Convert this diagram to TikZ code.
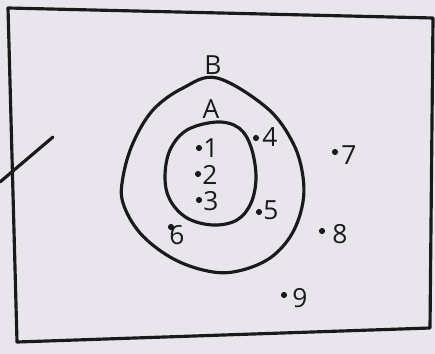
\documentclass[tikz,border=0pt]{standalone}
\usepackage{fontspec}
\setmainfont{Open Sans}
\definecolor{paper}{HTML}{E8E5EC}
\definecolor{ink}{HTML}{1A1A1A}
\begin{document}
\begin{tikzpicture}[x=0.02cm,y=-0.02cm,
  pen/.style={draw=ink,line width=1.8pt,line cap=round,line join=round},
  lbl/.style={text=ink,font=\fontsize{15}{17}\selectfont,inner sep=0pt},
  pt/.style={circle,fill=ink,inner sep=0pt,minimum size=3.5pt}]
\fill[paper] (0,0) rectangle (435,354);
\useasboundingbox (0,0) rectangle (435,354);
% frame
\coordinate (c1) at (8,8);
\coordinate (c2) at (433,18);
\coordinate (c3) at (430,328);
\coordinate (c4) at (17,342);
\draw[pen] (c1) -- (c2) -- (c3) -- (c4) -- cycle;
% diagonal stroke
\coordinate (d1) at (53,137);
\coordinate (d2) at (0,182);
\draw[pen] (d1) -- (d2);
% set B
\draw[pen] plot[smooth cycle,tension=0.6] coordinates {(217,78) (267,108) (293,143) (303,177) (302,207) (290,237) (267,260) (233,272) (203,270) (170,257) (140,233) (123,203) (123,177) (133,143) (153,110) (183,88)};
% set A
\draw[pen] plot[smooth cycle,tension=0.6] coordinates {(217,122) (239,128) (251,147) (256,177) (251,203) (237,220) (213,225) (187,218) (170,200) (165,177) (170,150) (187,130)};
% labels
\node[lbl] (B) at (213,65) {B};
\node[lbl] (A) at (211,109) {A};
% elements
\node[pt] (p1) at (199,148) {}; \node[lbl] (n1) at (211,148) {1};
\node[pt] (p2) at (198,174) {}; \node[lbl] (n2) at (210,175) {2};
\node[pt] (p3) at (199,200) {}; \node[lbl] (n3) at (211,201) {3};
\node[pt] (p4) at (256,138) {}; \node[lbl] (n4) at (270,137) {4};
\node[pt] (p5) at (259,212) {}; \node[lbl] (n5) at (271,210) {5};
\node[pt] (p6) at (171,227) {}; \node[lbl] (n6) at (177,235) {6};
\node[pt] (p7) at (335,152) {}; \node[lbl] (n7) at (349,155) {7};
\node[pt] (p8) at (322,231) {}; \node[lbl] (n8) at (340,234) {8};
\node[pt] (p9) at (284,295) {}; \node[lbl] (n9) at (300,298) {9};
\end{tikzpicture}
\end{document}
